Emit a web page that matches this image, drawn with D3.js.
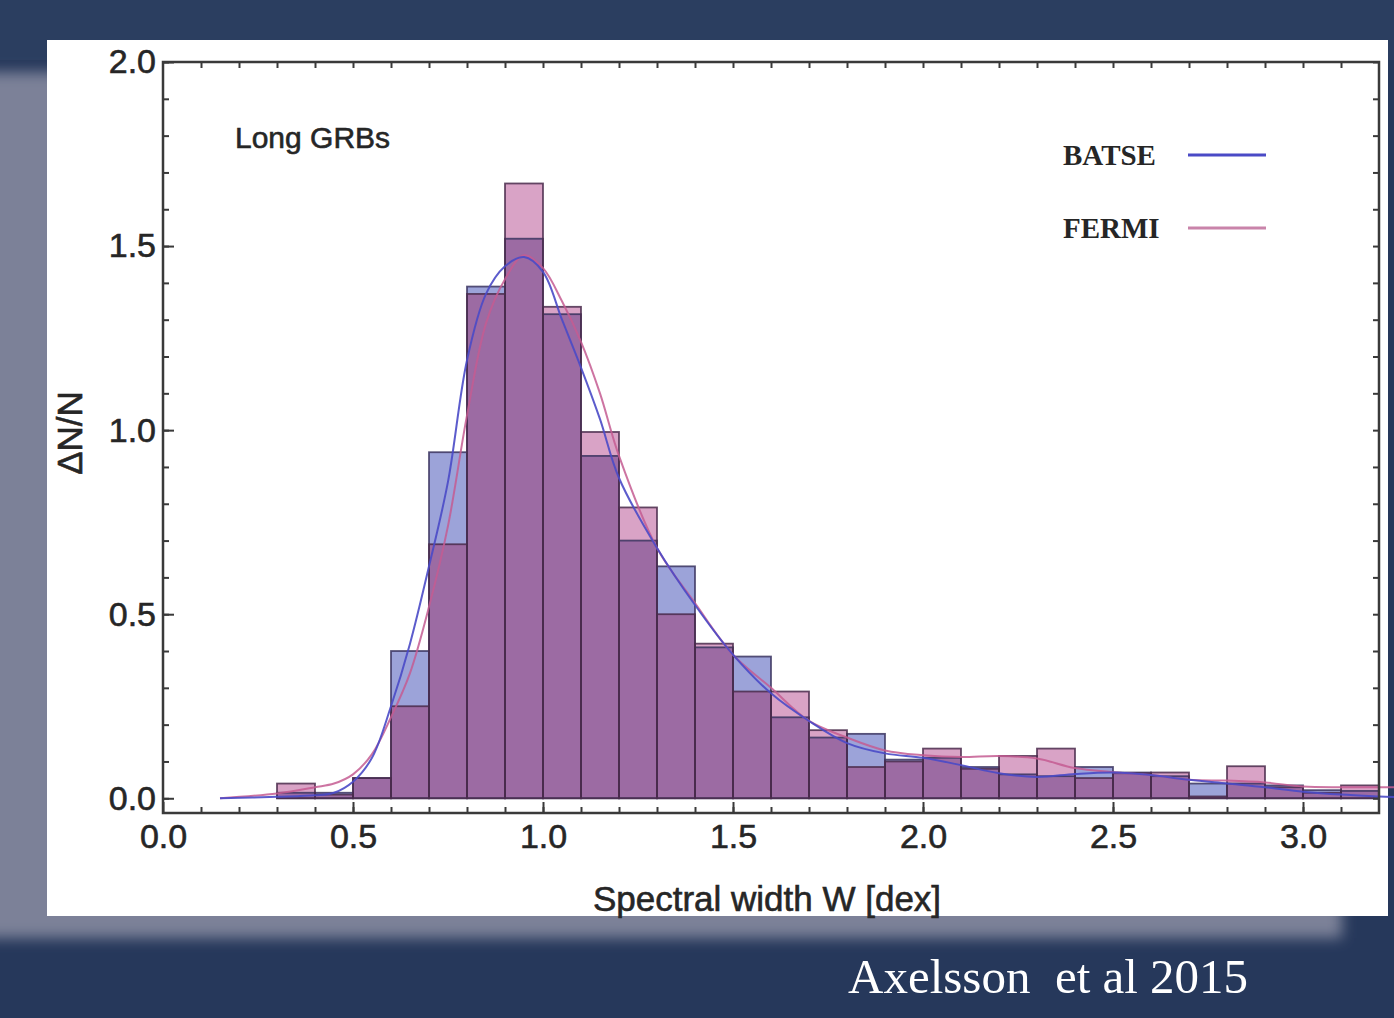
<!DOCTYPE html>
<html>
<head>
<meta charset="utf-8">
<script src="https://cdn.jsdelivr.net/npm/d3@7.9.0/dist/d3.min.js"></script>
<style>
  html, body { margin: 0; padding: 0; background: #26385b; }
  svg { display: block; }
  text { font-family: "Liberation Sans", Arial, sans-serif; fill: #262626; }
  .ink { stroke: #262626; stroke-width: 0.6px; }
</style>
</head>
<body>
<svg id="chart" width="1394" height="1018"></svg>
<script>
// histogram bins, width 0.1 dex
const binEdges = [0.3, 0.4, 0.5, 0.6, 0.7, 0.8, 0.9, 1.0, 1.1, 1.2, 1.3, 1.4, 1.5, 1.6, 1.7,
  1.8, 1.9, 2.0, 2.1, 2.2, 2.3, 2.4, 2.5, 2.6, 2.7, 2.8, 2.9, 3.0, 3.1, 3.2];
const batse = [0.015, 0.015, 0.055, 0.40, 0.94, 1.39, 1.52, 1.315, 0.93, 0.70, 0.63, 0.41, 0.385,
  0.22, 0.165, 0.175, 0.105, 0.11, 0.085, 0.065, 0.06, 0.085, 0.07, 0.06, 0.04, 0.04, 0.035, 0.022, 0.02];
const fermi = [0.04, 0.01, 0.055, 0.25, 0.69, 1.37, 1.67, 1.335, 0.995, 0.79, 0.50, 0.42, 0.29,
  0.29, 0.185, 0.085, 0.10, 0.135, 0.08, 0.115, 0.135, 0.055, 0.068, 0.07, 0.005, 0.087, 0.03, 0.015, 0.035];

// smooth density curves
const curveX = [0.15, 0.3, 0.4, 0.45, 0.5, 0.55, 0.6, 0.65, 0.7, 0.75, 0.8, 0.85, 0.9, 0.95, 1.0,
  1.05, 1.1, 1.15, 1.2, 1.3, 1.4, 1.5, 1.6, 1.7, 1.8, 1.9, 2.0, 2.1, 2.2, 2.3, 2.4, 2.5, 2.6, 2.7,
  2.8, 2.9, 3.0, 3.1, 3.2, 3.25];
const batseCurve = [0, 0.004, 0.008, 0.015, 0.045, 0.11, 0.25, 0.42, 0.63, 0.86, 1.19, 1.37, 1.445,
  1.47, 1.43, 1.30, 1.17, 1.03, 0.87, 0.68, 0.525, 0.39, 0.285, 0.21, 0.15, 0.122, 0.11, 0.09,
  0.068, 0.058, 0.066, 0.07, 0.063, 0.05, 0.04, 0.03, 0.018, 0.01, 0.005, 0.003];
const fermiCurve = [0, 0.013, 0.03, 0.04, 0.065, 0.12, 0.22, 0.34, 0.52, 0.74, 1.04, 1.29, 1.41,
  1.475, 1.44, 1.35, 1.24, 1.10, 0.93, 0.68, 0.53, 0.39, 0.30, 0.21, 0.165, 0.13, 0.117, 0.112,
  0.115, 0.108, 0.082, 0.071, 0.063, 0.05, 0.048, 0.043, 0.032, 0.03, 0.03, 0.03];

const xMajor = [0.0, 0.5, 1.0, 1.5, 2.0, 2.5, 3.0];
const yMajor = [0.0, 0.5, 1.0, 1.5, 2.0];
const legendNames = ["BATSE", "FERMI"];

const colors = {
  blueOnly: "#9ca3d9", pinkOnly: "#d9a3c6", both: "#9c6ba3",
  blueLine: "#4a4ac6", pinkLine: "#c45c92"
};

const svg = d3.select("#chart");
const defs = svg.append("defs");
defs.append("filter").attr("id", "blur").attr("x", "-10%").attr("y", "-10%")
  .attr("width", "120%").attr("height", "120%")
  .append("feGaussianBlur").attr("stdDeviation", 7);

// slide background
svg.append("rect").attr("width", 1394).attr("height", 1018).attr("fill", "#26385b");
svg.append("rect").attr("width", 1394).attr("height", 60).attr("fill", "#2b3e60");
svg.append("rect").attr("x", -30).attr("y", 72).attr("width", 1372).attr("height", 866)
  .attr("fill", "#7b8198").attr("filter", "url(#blur)");
svg.append("rect").attr("x", 47).attr("y", 40).attr("width", 1341).attr("height", 876).attr("fill", "#fff");

const x = d3.scaleLinear().domain([0, 3.2]).range([163, 1379]);
const y = d3.scaleLinear().domain([-0.04, 2.0]).range([813, 62]);

const bins = batse.map((b, i) => ({ x0: binEdges[i], x1: binEdges[i + 1], b, f: fermi[i] }));

const g = svg.append("g");
// part of the taller bar that sticks out
g.selectAll("rect.top").data(bins).join("rect")
  .attr("x", d => x(d.x0)).attr("width", d => x(d.x1) - x(d.x0))
  .attr("y", d => y(Math.max(d.b, d.f))).attr("height", d => y(0) - y(Math.max(d.b, d.f)))
  .attr("fill", d => d.b > d.f ? colors.blueOnly : colors.pinkOnly);
// overlap
g.selectAll("rect.both").data(bins).join("rect")
  .attr("x", d => x(d.x0)).attr("width", d => x(d.x1) - x(d.x0))
  .attr("y", d => y(Math.min(d.b, d.f))).attr("height", d => y(0) - y(Math.min(d.b, d.f)))
  .attr("fill", colors.both);
// outlines of both histograms
[["b", "#3b3560"], ["f", "#4a2c4c"]].forEach(([k, c]) => {
  g.append("g").selectAll("rect").data(bins).join("rect")
    .attr("x", d => x(d.x0)).attr("width", d => x(d.x1) - x(d.x0))
    .attr("y", d => y(d[k])).attr("height", d => y(0) - y(d[k]))
    .attr("fill", "none").attr("stroke", c).attr("stroke-width", 1.8).attr("stroke-opacity", 0.85);
});

// density curves
const line = vals => d3.line().x((d, i) => x(curveX[i])).y(d => y(d)).curve(d3.curveCatmullRom.alpha(0.5))(vals);
svg.append("path").attr("d", line(fermiCurve)).attr("fill", "none")
  .attr("stroke", colors.pinkLine).attr("stroke-width", 2).attr("stroke-opacity", 0.85);
svg.append("path").attr("d", line(batseCurve)).attr("fill", "none")
  .attr("stroke", colors.blueLine).attr("stroke-width", 2).attr("stroke-opacity", 0.9);

// frame and ticks
const axisColor = "#3a3a3a";
const minorX = d3.range(1, 32).map(i => i / 10);
const minorY = d3.range(0, 21).map(i => i / 10);
function styleAxis(sel) {
  sel.select(".domain").remove();
  sel.selectAll("line").attr("stroke", axisColor).attr("stroke-width", 2);
  sel.selectAll("text").attr("class", "ink").style("font-size", "34px").attr("fill", "#262626");
}
svg.append("g").attr("transform", "translate(0,813)")
  .call(d3.axisBottom(x).tickValues(minorX).tickSize(-6).tickFormat("")).call(styleAxis);
svg.append("g").attr("transform", "translate(0,813)")
  .call(d3.axisBottom(x).tickValues(xMajor).tickSize(-11).tickPadding(11).tickFormat(d3.format(".1f")))
  .call(styleAxis);
svg.append("g").attr("transform", "translate(0,62)")
  .call(d3.axisTop(x).tickValues(minorX).tickSize(-6).tickFormat("")).call(styleAxis);
svg.append("g").attr("transform", "translate(163,0)")
  .call(d3.axisLeft(y).tickValues(minorY).tickSize(-6).tickFormat("")).call(styleAxis);
svg.append("g").attr("transform", "translate(163,0)")
  .call(d3.axisLeft(y).tickValues(yMajor).tickSize(-11).tickPadding(7).tickFormat(d3.format(".1f")))
  .call(styleAxis);
svg.append("g").attr("transform", "translate(1379,0)")
  .call(d3.axisRight(y).tickValues(minorY).tickSize(-6).tickFormat("")).call(styleAxis);
svg.append("rect").attr("x", 163).attr("y", 62).attr("width", 1216).attr("height", 751)
  .attr("fill", "none").attr("stroke", axisColor).attr("stroke-width", 2.5);

// labels
svg.append("text").attr("class", "ink").attr("x", 767).attr("y", 911).attr("text-anchor", "middle")
  .style("font-size", "35px").text("Spectral width W [dex]");
svg.append("text").attr("class", "ink").attr("transform", "translate(82,433) rotate(-90)")
  .attr("text-anchor", "middle").style("font-size", "35px").text("ΔN/N");
svg.append("text").attr("class", "ink").attr("x", 235).attr("y", 148)
  .style("font-size", "30px").text("Long GRBs");

// legend
const legendColors = [colors.blueLine, "#c984aa"];
legendNames.forEach((n, i) => {
  const ly = 155 + i * 73;
  svg.append("text").attr("x", 1063).attr("y", ly + 10)
    .style("font-family", "'Liberation Serif', 'Times New Roman', serif").style("font-weight", "bold")
    .style("font-size", "29px").text(n);
  svg.append("line").attr("x1", 1188).attr("x2", 1266).attr("y1", ly).attr("y2", ly)
    .attr("stroke", legendColors[i]).attr("stroke-width", 3);
});

// citation on the slide
svg.append("text").attr("x", 848).attr("y", 993).attr("xml:space", "preserve")
  .style("font-family", "'Liberation Serif', 'DejaVu Serif', serif").style("font-size", "49px")
  .style("white-space", "pre").attr("fill", "#ffffff").style("fill", "#ffffff")
  .text("Axelsson  et al 2015");
</script>
</body>
</html>
